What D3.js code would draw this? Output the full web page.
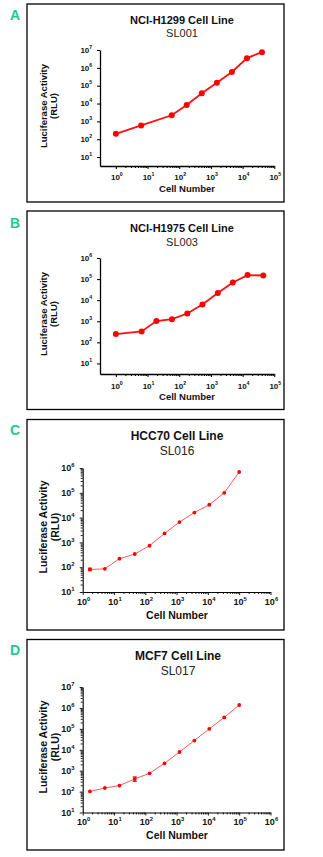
<!DOCTYPE html>
<html>
<head>
<meta charset="utf-8">
<script src="https://cdn.jsdelivr.net/npm/d3@7"></script>
<style>
body { margin: 0; background: #fff; }
svg { display: block; }
</style>
</head>
<body>
<script>
// panel headings
var letters   = ["A", "B", "C", "D"];
var cellLines = ["NCI-H1299 Cell Line", "NCI-H1975 Cell Line", "HCC70 Cell Line", "MCF7 Cell Line"];
var sampleIds = ["SL001", "SL003", "SL016", "SL017"];

// cell number vs luciferase activity (RLU)
var cellsA = [1, 6.3, 58, 172, 515, 1540, 4600, 13700, 40800];
var rluA   = [200, 590, 2200, 8300, 38000, 148000, 590000, 3500000, 7600000];

var cellsB = [1, 6.5, 19, 59, 180, 540, 1650, 4900, 14300, 45000];
var rluB   = [247, 330, 1020, 1260, 2340, 6300, 21800, 69000, 155000, 148000];

var cellsC = [1.7, 5.1, 15, 46, 137, 412, 1235, 3700, 11100, 33300, 100000];
var rluC   = [81, 86, 220, 340, 740, 2300, 6600, 16000, 33000, 100000, 690000];
var lowC   = [73, null, null, null, null, null, null, null, null, null, null];
var highC  = [91, null, null, null, null, null, null, null, null, null, null];

var cellsD = [1.7, 5.1, 15, 46, 137, 412, 1235, 3700, 11100, 33300, 100000];
var rluD   = [102, 148, 194, 400, 750, 2250, 7800, 27500, 100000, 350000, 1380000];
var lowD   = [null, null, null, 310, null, null, null, null, null, null, null];
var highD  = [null, null, null, 500, null, null, null, null, null, null, null];

// tick exponents
var xExpAB = [0, 1, 2, 3, 4, 5];
var yExpA  = [1, 2, 3, 4, 5, 6, 7];
var yExpB  = [1, 2, 3, 4, 5, 6];
var xExpCD = [0, 1, 2, 3, 4, 5, 6];
var yExpC  = [1, 2, 3, 4, 5, 6];
var yExpD  = [1, 2, 3, 4, 5, 6, 7];

var svg = d3.select("body").append("svg").attr("width", 323).attr("height", 857);

function minors(exps) {
    var out = [];
    for (var i = 0; i < exps.length - 1; i++)
        for (var m = 2; m <= 9; m++) out.push(m * Math.pow(10, exps[i]));
    return out;
}

function tickLabel(sel, supSize) {
    sel.text("10").append("tspan").attr("dy", -4).attr("font-size", supSize).text(function(d){ return d; });
}

function drawPanel(p) {
    var g = svg.append("g");
    var font = "Liberation Sans, Arial, sans-serif";

    g.append("rect")
        .attr("x", p.box[0]).attr("y", p.box[1])
        .attr("width", p.box[2] - p.box[0]).attr("height", p.box[3] - p.box[1])
        .attr("fill", "none").attr("stroke", "#000").attr("stroke-width", 1.3);

    g.append("text").attr("x", 10).attr("y", p.letterY)
        .attr("font-family", font).attr("font-size", 14).attr("font-weight", "bold")
        .attr("fill", "#22c98f").text(p.letter);

    g.append("text").attr("x", p.titleX).attr("y", p.titleY).attr("text-anchor", "middle")
        .attr("font-family", font).attr("font-size", p.titleSize)
        .attr("font-weight", "bold").attr("fill", "#111").text(p.title);
    g.append("text").attr("x", p.titleX).attr("y", p.titleY + p.titleSize * 1.25).attr("text-anchor", "middle")
        .attr("font-family", font).attr("font-size", p.titleSize)
        .attr("fill", "#222").text(p.sub);

    var x = d3.scaleLog().domain(p.xDom).range(p.xRange);
    var y = d3.scaleLog().domain(p.yDom).range(p.yRange);

    // x axis, decades plus minor ticks
    g.append("g").attr("transform", "translate(0," + p.yRange[0] + ")")
        .call(d3.axisBottom(x).tickValues(p.xExp.map(function(e){ return Math.pow(10, e); }))
            .tickSize(3).tickSizeOuter(0).tickFormat(""));
    g.append("g").attr("transform", "translate(0," + p.yRange[0] + ")")
        .call(d3.axisBottom(x).tickValues(minors(p.xExp)).tickSize(2).tickSizeOuter(0).tickFormat(""))
        .select(".domain").remove();

    // y axis
    g.append("g").attr("transform", "translate(" + p.xRange[0] + ",0)")
        .call(d3.axisLeft(y).tickValues(p.yExp.map(function(e){ return Math.pow(10, e); }))
            .tickSize(3).tickSizeOuter(0).tickFormat(""));
    if (p.yMinor) {
        g.append("g").attr("transform", "translate(" + p.xRange[0] + ",0)")
            .call(d3.axisLeft(y).tickValues(minors(p.yExp)).tickSize(2).tickSizeOuter(0).tickFormat(""))
            .select(".domain").remove();
    }
    g.selectAll(".domain").attr("stroke-width", p.axisW);
    g.selectAll(".tick line").attr("stroke-width", p.axisW * 0.8);

    g.selectAll(".xlab").data(p.xExp).enter().append("text")
        .attr("x", function(d){ return x(Math.pow(10, d)) + 1; })
        .attr("y", p.yRange[0] + p.xLabOff)
        .attr("text-anchor", "middle").attr("font-family", font).attr("font-weight", "bold")
        .attr("font-size", p.tickSize).attr("fill", "#111")
        .call(tickLabel, p.tickSize * 0.65);

    g.selectAll(".ylab").data(p.yExp).enter().append("text")
        .attr("x", p.xRange[0] - 5 - p.tickSize * 0.35)
        .attr("y", function(d){ return y(Math.pow(10, d)) + p.tickSize * 0.35; })
        .attr("text-anchor", "end").attr("font-family", font).attr("font-weight", "bold")
        .attr("font-size", p.tickSize).attr("fill", "#111")
        .call(tickLabel, p.tickSize * 0.65);

    // axis titles
    g.append("text").attr("x", p.cellX).attr("y", p.cellY).attr("text-anchor", "middle")
        .attr("font-family", font).attr("font-weight", "bold").attr("font-size", p.labSize)
        .attr("fill", "#111").text("Cell Number");
    var yl = g.append("text").attr("transform", "translate(" + p.lucX + "," + p.lucY + ") rotate(-90)")
        .attr("text-anchor", "middle").attr("font-family", font).attr("font-weight", "bold")
        .attr("font-size", p.labSize).attr("fill", "#111");
    yl.append("tspan").attr("x", 0).attr("dy", 0).text("Luciferase Activity");
    yl.append("tspan").attr("x", 0).attr("dy", p.labSize * 1.15).text("(RLU)");

    // series
    var pts = p.cells.map(function(c, i){
        return {c: c, v: p.rlu[i], lo: p.lo ? p.lo[i] : null, hi: p.hi ? p.hi[i] : null};
    });
    var line = d3.line().x(function(d){ return x(d.c); }).y(function(d){ return y(d.v); });
    g.append("path").attr("d", line(pts)).attr("fill", "none")
        .attr("stroke", p.lineColor).attr("stroke-width", p.lineW);
    pts.filter(function(d){ return d.lo != null; }).forEach(function(d){
        g.append("line").attr("x1", x(d.c)).attr("x2", x(d.c)).attr("y1", y(d.lo)).attr("y2", y(d.hi))
            .attr("stroke", "#f00").attr("stroke-width", 1);
        [d.lo, d.hi].forEach(function(v){
            g.append("line").attr("x1", x(d.c) - 2).attr("x2", x(d.c) + 2).attr("y1", y(v)).attr("y2", y(v))
                .attr("stroke", "#f00").attr("stroke-width", 1.2);
        });
    });
    g.selectAll(".dot").data(pts).enter().append("circle")
        .attr("cx", function(d){ return x(d.c); }).attr("cy", function(d){ return y(d.v); })
        .attr("r", p.dotR).attr("fill", "#f00");
}

drawPanel({
    box: [27, 4, 284, 202], letter: letters[0], letterY: 20,
    title: cellLines[0], sub: sampleIds[0], titleX: 182, titleY: 23.5, titleSize: 11,
    xDom: [Math.pow(10, -0.5), 1e5], xRange: [100, 274.3], xExp: xExpAB,
    yDom: [Math.pow(10, 0.5), 1e7], yRange: [166, 50], yExp: yExpA, yMinor: false,
    tickSize: 8, xLabOff: 14, labSize: 9.5, axisW: 1.3,
    cellX: 187, cellY: 191.5, lucX: 46.5, lucY: 106,
    cells: cellsA, rlu: rluA, lineColor: "#ff1010", lineW: 1.8, dotR: 3
});

drawPanel({
    box: [27, 211, 284, 409.5], letter: letters[1], letterY: 228,
    title: cellLines[1], sub: sampleIds[1], titleX: 182, titleY: 232, titleSize: 11,
    xDom: [Math.pow(10, -0.5), 1e5], xRange: [100, 274.3], xExp: xExpAB,
    yDom: [Math.pow(10, 0.5), 1e6], yRange: [374, 258], yExp: yExpB, yMinor: false,
    tickSize: 8, xLabOff: 14.5, labSize: 9.5, axisW: 1.3,
    cellX: 187, cellY: 400, lucX: 46.5, lucY: 314,
    cells: cellsB, rlu: rluB, lineColor: "#ff1010", lineW: 1.8, dotR: 3
});

drawPanel({
    box: [27, 419.5, 284, 630], letter: letters[2], letterY: 435,
    title: cellLines[2], sub: sampleIds[2], titleX: 177, titleY: 440, titleSize: 12,
    xDom: [1, 1e6], xRange: [82.7, 270.5], xExp: xExpCD,
    yDom: [10, 1e6], yRange: [592, 468], yExp: yExpC, yMinor: true,
    tickSize: 9, xLabOff: 13, labSize: 10.5, axisW: 1.1,
    cellX: 177, cellY: 618.5, lucX: 47, lucY: 527,
    cells: cellsC, rlu: rluC, lo: lowC, hi: highC, lineColor: "#ff5a5a", lineW: 1, dotR: 1.9
});

drawPanel({
    box: [27, 639.5, 284, 850], letter: letters[3], letterY: 655,
    title: cellLines[3], sub: sampleIds[3], titleX: 178, titleY: 660, titleSize: 12,
    xDom: [1, 1e6], xRange: [82.7, 270.5], xExp: xExpCD,
    yDom: [10, 1e7], yRange: [812.5, 687], yExp: yExpD, yMinor: true,
    tickSize: 9, xLabOff: 12.5, labSize: 10.5, axisW: 1.1,
    cellX: 177, cellY: 838.5, lucX: 47, lucY: 747,
    cells: cellsD, rlu: rluD, lo: lowD, hi: highD, lineColor: "#ff5a5a", lineW: 1, dotR: 1.9
});
</script>
</body>
</html>
